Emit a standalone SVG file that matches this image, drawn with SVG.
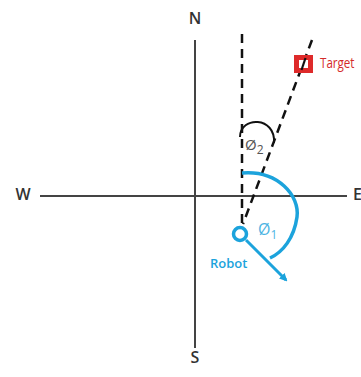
<svg xmlns="http://www.w3.org/2000/svg" width="361" height="377" viewBox="0 0 361 377">
<defs>
<style>
.axis{stroke:#444;stroke-width:2;fill:none}
.lbl{font-family:"Open Sans","Liberation Sans",sans-serif;font-size:16px;font-weight:600;fill:#333}
.dash{stroke:#111;stroke-width:2.5;stroke-dasharray:9,6;fill:none}
.blue{stroke:#1ca3dc;fill:none}
.bt{font-family:"Open Sans","Liberation Sans",sans-serif;fill:#1ca3dc}
</style>
<marker id="bh" markerWidth="8" markerHeight="8" refX="6" refY="4" orient="auto" markerUnits="userSpaceOnUse">
<path d="M0,0 L8,4 L0,8 Z" fill="#1ca3dc"/>
</marker>
</defs>
<rect width="361" height="377" fill="#fff"/>
<g id="compass">
<line class="axis" x1="195" y1="40" x2="195" y2="348"/>
<line class="axis" x1="40" y1="196" x2="347" y2="196"/>
<text class="lbl" x="195" y="24" text-anchor="middle">N</text>
<text class="lbl" x="195" y="363" text-anchor="middle">S</text>
<text class="lbl" x="23" y="200" text-anchor="middle">W</text>
<text class="lbl" x="353" y="200">E</text>
</g>
<g id="connectors">
<line class="dash" x1="242" y1="34" x2="242" y2="224"/>
<line class="dash" x1="312" y1="40" x2="243" y2="224"/>
<path d="M240,137 C240,116 276,116 274,143" stroke="#111" stroke-width="2" fill="none"/>
<path class="blue" stroke-width="3.5" d="M242,173 C278,170 300,196 297,217 C294,238 283,252 270,258"/>
<line class="blue" stroke-width="3" x1="246" y1="240" x2="286" y2="280" marker-end="url(#bh)"/>
</g>
<g id="target">
<rect x="294" y="55" width="19" height="18" fill="#de2a2a"/>
<rect x="299" y="60" width="9" height="8" fill="#fff"/>
<line x1="305.5" y1="58" x2="301.5" y2="70" stroke="#111" stroke-width="2.2"/>
<text x="320" y="68" font-family="'Open Sans','Liberation Sans',sans-serif" font-size="14.5" fill="#d42a2a" transform="translate(320 0) scale(0.8 1) translate(-320 0)">Target</text>
</g>
<g id="robot">
<circle cx="240" cy="234" r="6.5" fill="#fff" stroke="#1ca3dc" stroke-width="3.5"/>
<text class="bt" x="210" y="268" font-size="13" font-weight="600">Robot</text>
</g>
<g id="phi1">
<text class="bt" x="258" y="235" font-size="16" opacity="0.8">Ø<tspan font-size="12" dy="4">1</tspan></text>
</g>
<g id="phi2">
<text x="245" y="150" font-family="'Open Sans','Liberation Sans',sans-serif" font-size="15" fill="#555">Ø<tspan font-size="12" dy="4">2</tspan></text>
</g>
</svg>
